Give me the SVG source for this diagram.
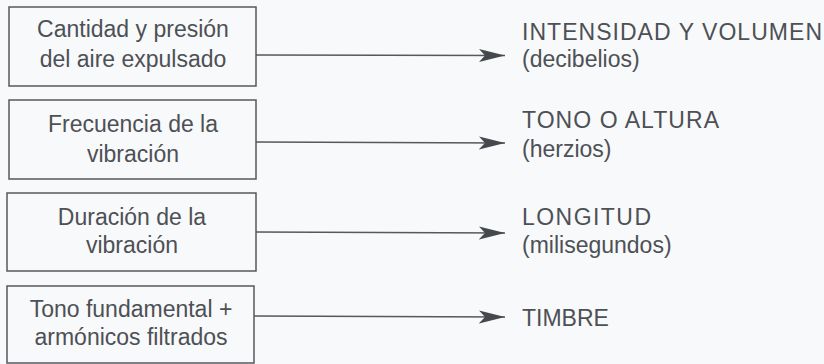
<svg xmlns="http://www.w3.org/2000/svg" width="824" height="364" viewBox="0 0 824 364">
<style>
text{font-family:"Liberation Sans","Open Sans",sans-serif;font-size:23px;fill:#4d5055}
.c{text-anchor:middle}
.box{fill:none;stroke:#55585c;stroke-width:1.5}
.ln{stroke:#55585c;stroke-width:1.5;fill:none}
</style>
<defs>
<marker id="ah" markerUnits="userSpaceOnUse" markerWidth="28" markerHeight="14" refX="26" refY="7" orient="auto">
<path d="M0,0.5 L26,7 L0,13.5 L6,7 Z" fill="#45484d"/>
</marker>
</defs>
<rect width="824" height="364" fill="#f8f9fa"/>
<g id="n1"><rect class="box" x="9" y="7" width="247" height="79"/><text class="c" x="133" y="37">Cantidad y presión</text><text class="c" x="133" y="67">del aire expulsado</text></g>
<g id="n2"><rect class="box" x="9" y="100" width="247" height="79"/><text class="c" x="133" y="132">Frecuencia de la</text><text class="c" x="133" y="162">vibración</text></g>
<g id="n3"><rect class="box" x="7" y="193" width="249" height="78"/><text class="c" x="132" y="225">Duración de la</text><text class="c" x="132" y="253">vibración</text></g>
<g id="n4"><rect class="box" x="7" y="286" width="247" height="77"/><text class="c" x="131" y="317">Tono fundamental +</text><text class="c" x="131" y="345">armónicos filtrados</text></g>
<g id="r1"><text x="522" y="40" textLength="300" lengthAdjust="spacing">INTENSIDAD Y VOLUMEN</text><text x="522" y="67">(decibelios)</text></g>
<g id="r2"><text x="522" y="128" textLength="197" lengthAdjust="spacing">TONO O ALTURA</text><text x="522" y="157">(herzios)</text></g>
<g id="r3"><text x="522" y="225" textLength="129" lengthAdjust="spacing">LONGITUD</text><text x="522" y="253">(milisegundos)</text></g>
<g id="r4"><text x="522" y="326">TIMBRE</text></g>
<g id="connectors">
<line class="ln" x1="256" y1="55" x2="505" y2="55.5" marker-end="url(#ah)"/>
<line class="ln" x1="256" y1="142" x2="505" y2="143" marker-end="url(#ah)"/>
<line class="ln" x1="256" y1="232" x2="505" y2="233" marker-end="url(#ah)"/>
<line class="ln" x1="254" y1="316" x2="505" y2="317" marker-end="url(#ah)"/>
</g>
</svg>
